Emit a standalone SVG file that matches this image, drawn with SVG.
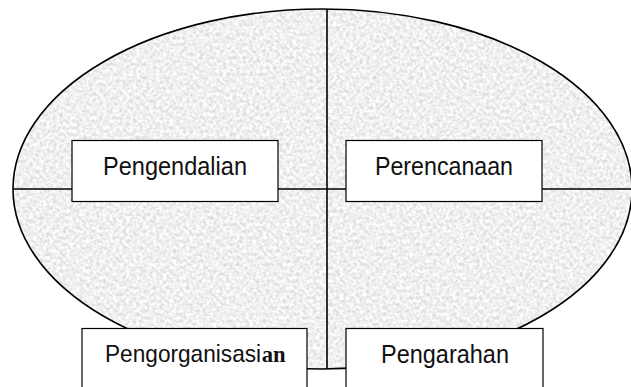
<svg xmlns="http://www.w3.org/2000/svg" width="631" height="387" viewBox="0 0 631 387">
  <defs>
    <filter id="granite" x="0" y="0" width="100%" height="100%" color-interpolation-filters="sRGB">
      <feTurbulence type="fractalNoise" baseFrequency="0.3" numOctaves="3" seed="7" result="n"/>
      <feColorMatrix in="n" type="matrix" values="0.28 0 0 0 0.8  0.28 0 0 0 0.8  0.28 0 0 0 0.8  0 0 0 0 1" result="g"/>
      <feComposite in="g" in2="SourceGraphic" operator="in"/>
    </filter>
    <style>
      .box { fill: #ffffff; stroke: #000000; stroke-width: 1.2; }
      .lbl { font-family: "Liberation Sans", Arial, sans-serif; font-size: 25px; fill: #111111; text-anchor: middle; }
      .start { text-anchor: start; font-size: 24px; }
      .line { stroke: #000000; stroke-width: 1.6; fill: none; }
      .serifb { font-family: "Liberation Serif", "Times New Roman", serif; font-weight: bold; font-size: 24px; fill: #111111; }
    </style>
  </defs>

  <rect x="0" y="0" width="631" height="387" fill="#ffffff"/>

  <g id="background">
    <ellipse cx="322.5" cy="189" rx="309.5" ry="180" fill="#eeeeee" filter="url(#granite)"/>
    <ellipse cx="322.5" cy="189" rx="309.5" ry="180" fill="none" stroke="#000" stroke-width="1.6"/>
  </g>

  <g id="connectors">
    <line class="line" x1="327" y1="9" x2="327" y2="369"/>
    <line class="line" x1="13" y1="189" x2="631" y2="189"/>
  </g>

  <g id="node-pengendalian">
    <rect class="box" x="72" y="140.5" width="206" height="61"/>
    <text class="lbl" x="175" y="175" textLength="144" lengthAdjust="spacingAndGlyphs">Pengendalian</text>
  </g>

  <g id="node-perencanaan">
    <rect class="box" x="346" y="140.5" width="196" height="61"/>
    <text class="lbl" x="444" y="175" textLength="138" lengthAdjust="spacingAndGlyphs">Perencanaan</text>
  </g>

  <g id="node-pengorganisasian">
    <rect class="box" x="82" y="328.5" width="225" height="62"/>
    <g transform="translate(105,362) scale(0.944,1)">
      <text class="lbl start" x="0" y="0">Pengorganisasi</text>
      <text class="serifb" x="166" y="0">an</text>
    </g>
  </g>

  <g id="node-pengarahan">
    <rect class="box" x="346" y="328.5" width="197" height="62"/>
    <text class="lbl" x="445" y="363" font-size="24" textLength="128" lengthAdjust="spacingAndGlyphs">Pengarahan</text>
  </g>
</svg>
